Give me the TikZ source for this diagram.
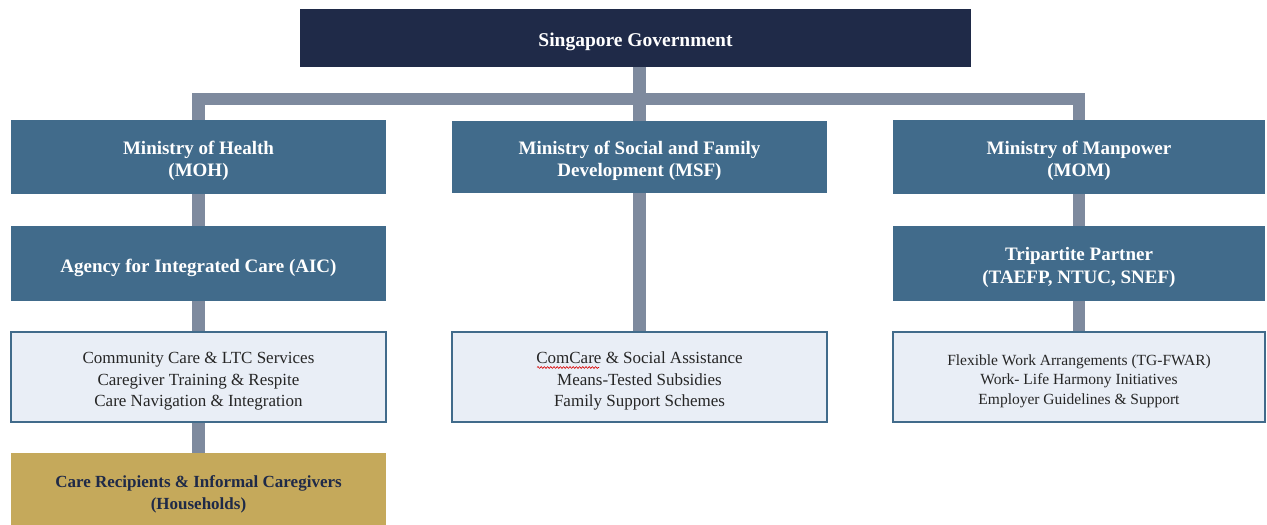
\documentclass[tikz,border=0pt]{standalone}
\usepackage{fontspec}
\setmainfont{Liberation Serif}
\usetikzlibrary{backgrounds,decorations.pathmorphing}
\definecolor{navy}{HTML}{1F2A48}
\definecolor{steel}{HTML}{416B8B}
\definecolor{linkgray}{HTML}{7E8A9E}
\definecolor{paleblue}{HTML}{E9EEF6}
\definecolor{gold}{HTML}{C5A95B}
% centred lines of box text, drawn slightly below the middle of the box
\newcommand\boxlines[1]{\raisebox{-4pt}[\height][\depth]{\begin{tabular}{@{}c@{}}#1\end{tabular}}}
\tikzset{
  box/.style={rectangle, inner sep=0pt},
  govbox/.style={box, fill=navy, text=white, font=\bfseries\fontsize{19.5}{23}\selectfont},
  unitbox/.style={box, fill=steel, text=white, font=\bfseries\fontsize{19}{22.5}\selectfont},
  servbox/.style={box, fill=paleblue, draw=steel, line width=1.5pt, text=black!85,
                  font=\fontsize{17}{21.5}\selectfont},
  homebox/.style={box, fill=gold, text=navy, font=\bfseries\fontsize{17}{21.5}\selectfont},
  conn/.style={draw=linkgray, line width=12.5pt, line join=miter, line cap=butt},
}
\begin{document}
\begin{tikzpicture}[x=1pt,y=-1pt]
\useasboundingbox (0,0) rectangle (1267,525);

% top level
\node[govbox, minimum width=671pt, minimum height=58pt] (gov) at (635.5,38)
  {\boxlines{Singapore Government}};

% ministries
\node[unitbox, minimum width=375pt, minimum height=74pt] (moh) at (198.5,157)
  {\boxlines{Ministry of Health\\(MOH)}};
\node[unitbox, minimum width=375pt, minimum height=72pt] (msf) at (639.5,157)
  {\boxlines{Ministry of Social and Family\\Development (MSF)}};
\node[unitbox, minimum width=372pt, minimum height=74pt] (mom) at (1079,157)
  {\boxlines{Ministry of Manpower\\(MOM)}};

% agencies and partners
\node[unitbox, minimum width=375pt, minimum height=75pt] (aic) at (198.5,263.5)
  {\boxlines{Agency for Integrated Care (AIC)}};
\node[unitbox, minimum width=372pt, minimum height=75pt] (tri) at (1079,263.5)
  {\boxlines{Tripartite Partner\\(TAEFP, NTUC, SNEF)}};

% services
\node[servbox, minimum width=375pt, minimum height=90pt] (svcmoh) at (198.5,377)
  {\boxlines{Community Care \& LTC Services\\Caregiver Training \& Respite\\Care Navigation \& Integration}};
\node[servbox, minimum width=375pt, minimum height=90pt] (svcmsf) at (639.5,377)
  {\boxlines{ComCare \& Social Assistance\\Means-Tested Subsidies\\Family Support Schemes}};
\node[servbox, minimum width=372pt, minimum height=90pt, font=\fontsize{15.5}{19.8}\selectfont] (svcmom) at (1079,377)
  {\boxlines{Flexible Work Arrangements (TG-FWAR)\\Work- Life Harmony Initiatives\\Employer Guidelines \& Support}};

% households
\node[homebox, minimum width=375pt, minimum height=74pt] (home) at (198.5,490)
  {\boxlines{Care Recipients \& Informal Caregivers\\(Households)}};

% spell-check underline beneath "ComCare"
\draw[red!85!black, line width=0.6pt, decorate,
      decoration={snake, amplitude=0.9pt, segment length=3.2pt}] (537,367.5) -- (599,367.5);

% connectors
\coordinate (bar) at (640,99);
\begin{scope}[on background layer]
  \fill[white] (0,0) rectangle (1267,525);
  \draw[conn] (gov.south -| msf.north) -- (msf.north);
  \draw[conn] (moh.north) |- (bar) -| (mom.north);
  \draw[conn] (moh.south) -- (aic.north);
  \draw[conn] (aic.south) -- (svcmoh.north);
  \draw[conn] (svcmoh.south) -- (home.north);
  \draw[conn] (msf.south) -- (svcmsf.north);
  \draw[conn] (mom.south) -- (tri.north);
  \draw[conn] (tri.south) -- (svcmom.north);
\end{scope}
\end{tikzpicture}
\end{document}
